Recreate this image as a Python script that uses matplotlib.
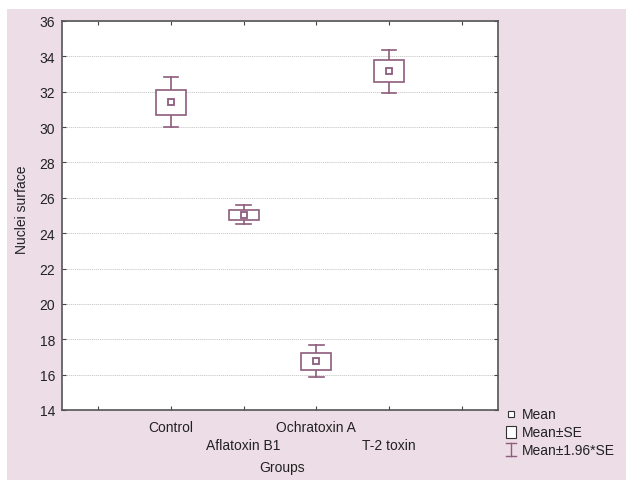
import matplotlib
matplotlib.use('Agg')
import matplotlib.pyplot as plt
from matplotlib.patches import Rectangle

plt.rcParams['font.family'] = ['Liberation Sans', 'DejaVu Sans']

# data
groups = ['Control', 'Aflatoxin B1', 'Ochratoxin A', 'T-2 toxin']
means = [31.4, 25.04, 16.75, 33.15]
se = [0.72, 0.27, 0.46, 0.62]
yticks = [14, 16, 18, 20, 22, 24, 26, 28, 30, 32, 34, 36]

col = '#8e5c7c'
pink = '#ecdde6'
txt = '#222222'

fig = plt.figure(figsize=(6.26, 4.81), dpi=100)
fig.patches.append(Rectangle((7/626, 0), 1, 1 - 10/481, transform=fig.transFigure,
                             facecolor=pink, edgecolor='none', zorder=-10))
ax = fig.add_axes([62/626, 1 - 411/481, 436/626, 389/481])

pos = list(range(1, len(groups) + 1))
bw = 0.41
cw = 0.2
for x, m, s in zip(pos, means, se):
    lo, hi = m - 1.96*s, m + 1.96*s
    ax.plot([x, x], [lo, m - s], color=col, lw=1.2, zorder=3)
    ax.plot([x, x], [m + s, hi], color=col, lw=1.2, zorder=3)
    ax.plot([x - cw/2, x + cw/2], [lo, lo], color=col, lw=1.2, zorder=3)
    ax.plot([x - cw/2, x + cw/2], [hi, hi], color=col, lw=1.2, zorder=3)
    ax.add_patch(Rectangle((x - bw/2, m - s), bw, 2*s, facecolor='white',
                           edgecolor=col, lw=1.2, zorder=3))
    ax.plot(x, m, 's', ms=5, mfc='white', mec=col, mew=1.3, zorder=4)

ax.set_xlim(-0.5, 5.5)
ax.set_ylim(14, 36)
ax.set_yticks(yticks)
ax.set_xticks(range(0, 6))
ax.set_xticklabels([])
ax.grid(axis='y', color='#c4c4c4', ls=(0, (1.5, 1)), lw=0.6)
ax.tick_params(direction='in', top=True, right=True, labelsize=10, length=3,
               color='#444444', pad=5, labelcolor=txt)
for sp in ax.spines.values():
    sp.set_color('#555555')
    sp.set_linewidth(1.2)

# staggered group labels
for i, (x, g) in enumerate(zip(pos, groups)):
    ax.annotate(g, (x, 0), xycoords=('data', 'axes fraction'),
                xytext=(0, -7 if i % 2 == 0 else -20), textcoords='offset points',
                ha='center', va='top', fontsize=10, color=txt)

fig.text(282/626, 1 - 468/481, 'Groups', ha='center', va='center', fontsize=10,
         color=txt)
fig.text(22/626, 1 - 210/481, 'Nuclei surface', rotation=90, ha='center',
         va='center', fontsize=10, color=txt)

# legend drawn by hand
lg = fig.add_axes([500/626, 0, 126/626, 1 - 400/481])
lg.set_xlim(0, 126)
lg.set_ylim(81, 0)
lg.axis('off')
lg.plot(11, 15, 's', ms=4, mfc='white', mec='#333333', mew=0.8)
lg.text(22, 15, 'Mean', va='center', fontsize=10, color=txt)
lg.add_patch(Rectangle((6, 27), 10, 12, facecolor='white', edgecolor='#333333', lw=0.8))
lg.text(22, 33, 'Mean±SE', va='center', fontsize=10, color=txt)
lg.plot([11, 11], [44, 57], color=col, lw=1)
lg.plot([6, 16], [44, 44], color=col, lw=1)
lg.plot([6, 16], [57, 57], color=col, lw=1)
lg.text(22, 51, 'Mean±1.96*SE', va='center', fontsize=10, color=txt)

fig.savefig('out.png', dpi=100)
